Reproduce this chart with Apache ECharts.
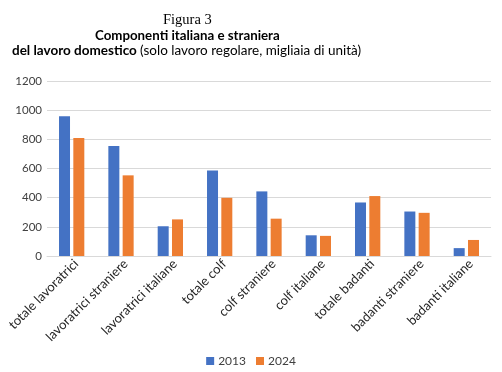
<!DOCTYPE html>
<html>
<head>
<meta charset="utf-8">
<script src="https://cdn.jsdelivr.net/npm/echarts@6/dist/echarts.min.js"></script>
<style>html,body{margin:0;padding:0;background:#fff}#c{width:502px;height:372px}</style>
</head>
<body>
<div id="c"></div>
<script>
const categories = ["totale lavoratrici","lavoratrici straniere","lavoratrici italiane","totale colf","colf straniere","colf italiane","totale badanti","badanti straniere","badanti italiane"];
const values2013 = [958, 754, 204, 587, 443, 142, 367, 305, 54];
const values2024 = [809, 553, 251, 399, 256, 138, 411, 296, 110];
const seriesNames = ["2013", "2024"];
const yTicks = [0, 200, 400, 600, 800, 1000, 1200];

const font = 'Lato, "Open Sans", sans-serif';
const chart = echarts.init(document.getElementById('c'), null, {renderer: 'canvas'});
chart.setOption({
  animation: false,
  backgroundColor: '#fff',
  graphic: [
    {type: 'text', left: 163, top: 13, style: {text: 'Figura 3', font: '14.5px "Liberation Serif", serif', fill: '#000'}},
    {type: 'text', left: 95, top: 29, style: {text: 'Componenti italiana e straniera', font: 'bold 13.3px ' + font, fill: '#000'}},
    {type: 'text', left: 12, top: 44, style: {
      text: '{b|del lavoro domestico} {n|(solo lavoro regolare, migliaia di unità)}',
      rich: {
        b: {fontFamily: font, fontWeight: 'bold', fontSize: 13.5, fill: '#000', color: '#000'},
        n: {fontFamily: font, fontSize: 13.5, fill: '#000', color: '#000'}
      }
    }}
  ],
  legend: {
    bottom: 0, left: 'center',
    itemWidth: 8, itemHeight: 8, itemGap: 10,
    icon: 'rect',
    textStyle: {fontFamily: font, fontSize: 12, color: '#404040', padding: [0,0,0,-1]},
    data: seriesNames
  },
  grid: {left: 47, right: 11, top: 81, bottom: 116, containLabel: false},
  xAxis: {
    type: 'category', data: categories,
    axisLine: {lineStyle: {color: '#d9d9d9'}},
    axisTick: {show: false},
    axisLabel: {rotate: 45, interval: 0, fontFamily: font, fontSize: 13, color: '#262626', margin: 1, verticalAlign: 'top'}
  },
  yAxis: {
    type: 'value', min: yTicks[0], max: yTicks[yTicks.length-1], interval: 200,
    axisLine: {show: false}, axisTick: {show: false},
    axisLabel: {fontFamily: font, fontSize: 11.5, color: '#404040', margin: 5, formatter: v => String(v)},
    splitLine: {lineStyle: {color: '#d9d9d9', width: 1}}
  },
  series: [
    {name: seriesNames[0], type: 'bar', data: values2013, barWidth: 11, barGap: '30%', itemStyle: {color: '#4472C4'}},
    {name: seriesNames[1], type: 'bar', data: values2024, barWidth: 11, itemStyle: {color: '#ED7D31'}}
  ]
});
</script>
</body>
</html>
